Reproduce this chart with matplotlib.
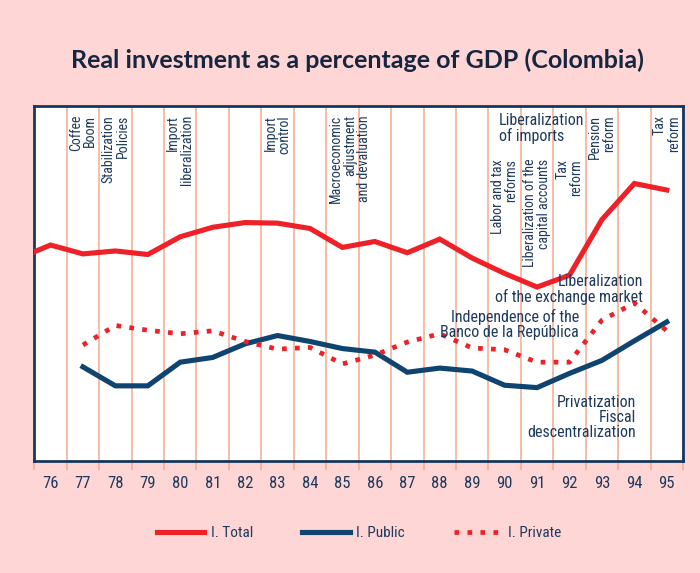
import matplotlib
matplotlib.use('Agg')
import matplotlib.pyplot as plt
from matplotlib import font_manager

# datos (% del PIB)
years_total = list(range(75, 96))
total = [17.1, 18.25, 17.5, 17.75, 17.45, 18.95, 19.75, 20.15, 20.1, 19.65, 18.05,
         18.55, 17.6, 18.75, 17.15, 15.85, 14.7, 15.7, 20.4, 23.45, 22.9]

years_sub = list(range(77, 96))
public = [7.95, 6.35, 6.35, 8.35, 8.75, 9.9, 10.6, 10.1, 9.5, 9.2, 7.5, 7.85,
          7.6, 6.4, 6.2, 7.4, 8.5, 10.15, 11.75]
private = [9.8, 11.45, 11.05, 10.75, 11.0, 10.1, 9.45, 9.6, 8.2, 8.95, 10.05,
           10.75, 9.55, 9.4, 8.35, 8.35, 11.9, 13.35, 11.0]

year_labels = [str(y) for y in range(76, 96)]

# eventos verticales (año, texto, arriba/abajo)
events_v = [
    (77, 'Coffee\nBoom', 'high'),
    (78, 'Stabilization\nPolicies', 'high'),
    (80, 'Import\nliberalization', 'high'),
    (83, 'Import\ncontrol', 'high'),
    (85.23, 'Macroeconomic\nadjustment\nand devaluation', 'high'),
    (90, 'Labor and tax\nreforms', 'low'),
    (91, 'Liberalization of the\ncapital accounts', 'low'),
    (92, 'Tax\nreform', 'low'),
    (93, 'Pension\nreform', 'high'),
    (95, 'Tax\nreform', 'high'),
]

BG = '#FFD6D6'
RED = '#EE2128'
NAVY = '#0F4470'
TXT = '#1E3A5C'
GRID = '#F6A98C'
FRAME = '#17375E'


def pick(cands):
    names = {f.name for f in font_manager.fontManager.ttflist}
    for c in cands:
        if c in names:
            return c
    return 'DejaVu Sans'


narrow = [pick(['Liberation Sans Narrow', 'Roboto Condensed', 'DejaVu Sans Condensed', 'Liberation Sans']), 'DejaVu Sans']
title_font = [pick(['Lato', 'Open Sans', 'Noto Sans']), 'DejaVu Sans']
plt.rcParams['font.family'] = narrow

fig = plt.figure(figsize=(7, 5.73), dpi=100, facecolor=BG)
ax = fig.add_axes([0.049, 0.1955, 0.9267, 0.6195])
ax.set_facecolor('white')

ax.plot(years_total, total, color=RED, lw=3.7, solid_joinstyle='miter', label='I. Total', zorder=3)
ax.plot(years_sub, public, color=NAVY, lw=3.7, solid_joinstyle='miter', label='I. Public', zorder=3)
ax.plot(years_sub, private, color=RED, lw=3.4, linestyle=(0, (1, 1.75)),
        dash_capstyle='butt', label='I. Private', zorder=3)

ax.set_xlim(75.5, 95.5)
ax.set_ylim(0, 30)

# lineas verticales en los limites de cada año
bounds = [75.5 + k for k in range(21)]
ax.set_xticks(bounds)
ax.set_xticklabels([])
ax.set_xticks(list(range(76, 96)), minor=True)
ax.set_xticklabels(year_labels, minor=True)
ax.tick_params(axis='x', which='major', length=6.5, width=1.1, color=GRID, direction='out')
ax.tick_params(axis='x', which='minor', length=0, pad=11, labelsize=12, labelcolor=TXT)
ax.set_yticks([])
ax.grid(axis='x', which='major', color=GRID, lw=1.1)
ax.set_axisbelow(True)
for s in ax.spines.values():
    s.set_color(FRAME)
    s.set_linewidth(2)

for x, txt, pos in events_v:
    ytop = 0.975 if pos == 'high' else 0.851
    ax.text(x, ytop, txt, transform=ax.get_xaxis_transform(), rotation=90,
            ha='center', va='top', multialignment='right', fontsize=10,
            color=TXT, linespacing=1.0, zorder=4)

tr = ax.get_xaxis_transform()
ax.text(89.82, 0.98, 'Liberalization\nof imports', transform=tr, ha='left', va='top',
        fontsize=11.5, color=TXT, linespacing=1.0, zorder=4)
ax.text(94.26, 0.527, 'Liberalization\nof the exchange market', transform=tr, ha='right',
        va='top', multialignment='right', fontsize=11.5, color=TXT, linespacing=1.0, zorder=4)
ax.text(92.29, 0.428, 'Independence of the\nBanco de la República', transform=tr, ha='right',
        va='top', multialignment='right', fontsize=11.5, color=TXT, linespacing=1.0, zorder=4)
ax.text(94.04, 0.186, 'Privatization\nFiscal\ndescentralization', transform=tr, ha='right',
        va='top', multialignment='right', fontsize=11.5, color=TXT, linespacing=1.0, zorder=4)

fig.text(0.511, 0.895, 'Real investment as a percentage of GDP (Colombia)', ha='center',
         va='center', fontsize=18, fontweight='bold', color='#172640', family=title_font)

handles, labels = ax.get_legend_handles_labels()
leg = fig.legend(handles, labels, loc='center', bbox_to_anchor=(0.513, 0.07), ncol=3,
                 frameon=False, handlelength=3.1, handletextpad=0.45, columnspacing=3.2,
                 fontsize=11)
for t in leg.get_texts():
    t.set_color(TXT)

fig.savefig('out.png', dpi=100, facecolor=BG)
